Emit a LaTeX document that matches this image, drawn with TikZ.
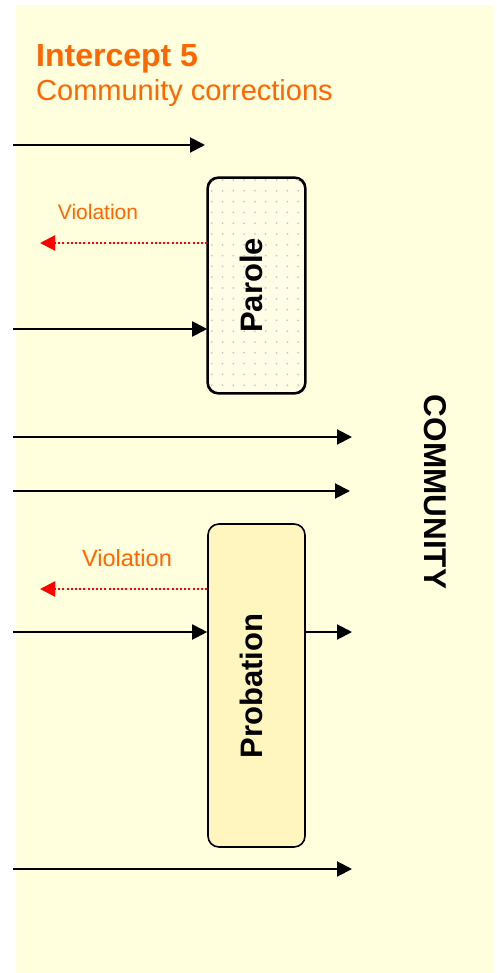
\documentclass[tikz,border=0pt]{standalone}
\usepackage{fontspec}
\setmainfont{Liberation Sans}
\usetikzlibrary{arrows.meta}

\definecolor{panel}{HTML}{FFFEDD}
\definecolor{titleorange}{HTML}{FF6600}
\definecolor{paroleFill}{HTML}{FFFDE6}
\definecolor{probFill}{HTML}{FFF5BF}
\definecolor{dotgrey}{HTML}{C9C9C0}

\tikzset{
  flow/.style={line width=2pt, -{Triangle[length=15pt,width=15pt]}},
  violation/.style={red, line width=2pt, dash pattern=on 2pt off 2.2pt,
                    -{Triangle[length=15pt,width=15pt]}},
  agency/.style={draw, line width=1.6pt, rounded corners=11pt, inner sep=0pt},
  agencylabel/.style={font=\bfseries\fontsize{31}{31}\selectfont, inner sep=0pt},
  violabel/.style={titleorange, inner sep=0pt},
}

\begin{document}
\begin{tikzpicture}[x=1pt, y=-1pt]
\useasboundingbox (0,0) rectangle (497,973);
% panel background
\fill[panel] (16,5) rectangle (493,973);

% heading
\node[anchor=base west, inner sep=0pt, titleorange,
      font=\bfseries\fontsize{32}{32}\selectfont] (title) at (36,67) {Intercept 5};
\node[anchor=base west, inner sep=0pt, titleorange,
      font=\fontsize{29}{29}\selectfont] (subtitle) at (36,101) {Community corrections};

% parole box with dotted texture
\node[agency, fill=paroleFill, minimum width=97pt, minimum height=215pt]
  (parole) at (256.5,285.5) {};
\begin{scope}
  \clip[rounded corners=11pt] (parole.south west) rectangle (parole.north east);
  \foreach \i in {0,...,9} {
    \foreach \j in {0,...,20} {
      \fill[dotgrey] (211.7+\i*10.8, 180+\j*10.8) circle (1pt);
    }
  }
\end{scope}
\draw[line width=1.6pt, rounded corners=11pt] (parole.south west) rectangle (parole.north east);
\node[agencylabel, rotate=90] (parolelabel) at (251,285.5) {Parole};

% probation box
\node[agency, fill=probFill, minimum width=97pt, minimum height=323pt]
  (probation) at (256.5,685.5) {};
\node[agencylabel, rotate=90] (probationlabel) at (251,686) {Probation};

% community label
\node[inner sep=0pt, rotate=-90, font=\bfseries\fontsize{31.5}{31.5}\selectfont]
  (community) at (435,492) {COMMUNITY};

% violation labels
\node[violabel, font=\fontsize{21}{21}\selectfont] (viol1) at (98,212) {Violation};
\node[violabel, font=\fontsize{23.5}{23.5}\selectfont] (viol2) at (127,558) {Violation};

% free ends of the flow lines
\coordinate (a1s) at (13,145);  \coordinate (a1e) at (205,145);
\coordinate (a2s) at (13,329);
\coordinate (a3s) at (13,437);  \coordinate (a3e) at (352,437);
\coordinate (a4s) at (13,491);  \coordinate (a4e) at (350,491);
\coordinate (a5s) at (13,632);
\coordinate (a6e) at (352,632);
\coordinate (a7s) at (13,869);  \coordinate (a7e) at (352,869);
\coordinate (v1e) at (40,243);
\coordinate (v2e) at (40,589);

% flows
\draw[flow] (a1s) -- (a1e);
\draw[flow] (a2s) -- (a2s -| parole.west);
\draw[flow] (a3s) -- (a3e);
\draw[flow] (a4s) -- (a4e);
\draw[flow] (a5s) -- (a5s -| probation.west);
\draw[flow] (a6e -| probation.east) -- (a6e);
\draw[flow] (a7s) -- (a7e);

% violations back out of the intercept
\draw[violation] (v1e -| parole.west) -- (v1e);
\draw[violation] (v2e -| probation.west) -- (v2e);
\end{tikzpicture}
\end{document}
